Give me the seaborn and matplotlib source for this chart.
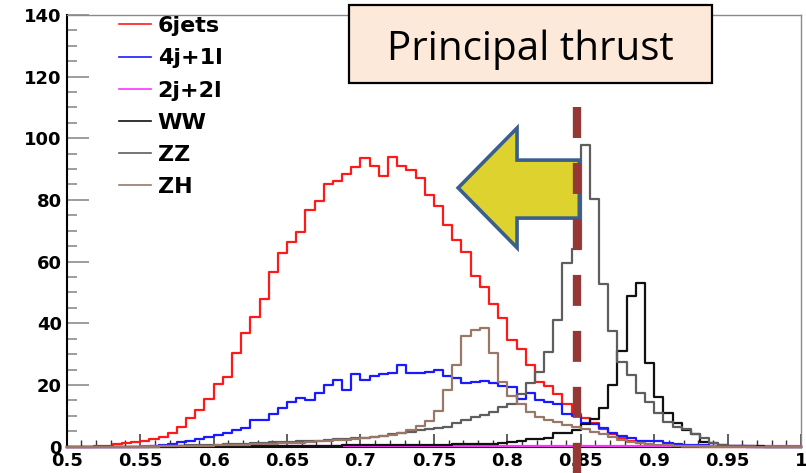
import numpy as np
import pandas as pd
import matplotlib
matplotlib.use("Agg")
import matplotlib.pyplot as plt
from matplotlib.lines import Line2D
from matplotlib.patches import Polygon, Rectangle
from matplotlib.ticker import FixedLocator, MultipleLocator
import seaborn as sns

# Histogram binning: 80 bins over [0.5, 1.0]
x_min, x_max, n_bins = 0.5, 1.0, 80

jets6 = [0, 0, 0, 0.2, 0.3, 0.8, 1.3, 1.5, 1.7, 2.4,
         3.2, 4.3, 6.5, 9.2, 11.9, 15.4, 20.2, 22.7, 30.5, 36.8,
         41.9, 48.0, 56.7, 62.7, 66.3, 69.5, 76.7, 79.6, 85.0, 86.2,
         88.4, 90.8, 93.6, 91.0, 87.7, 93.8, 91.0, 89.8, 87.2, 81.5,
         78.0, 72.0, 67.1, 63.2, 55.3, 51.9, 46.3, 41.8, 34.5, 31.8,
         26.4, 20.9, 19.7, 17.2, 14.0, 10.6, 9.2, 7.6, 5.6, 4.1,
         2.7, 1.9, 1.1, 0.5, 0.3, 0.2, 0.1, 0, 0, 0,
         0, 0, 0, 0, 0, 0, 0, 0, 0, 0]

jets4_lep1 = [0, 0, 0, 0, 0, 0, 0, 0, 0, 0.3,
              0.5, 0.8, 1.4, 1.8, 2.4, 3.0, 3.8, 4.5, 5.4, 6.2,
              8.7, 8.7, 10.5, 12.5, 14.5, 15.8, 15.1, 17.3, 20.0, 21.5,
              18.4, 23.7, 21.7, 22.8, 23.5, 24.0, 26.5, 23.9, 24.0, 24.2,
              24.9, 22.9, 22.4, 20.8, 21.1, 21.4, 20.6, 19.6, 19.3, 15.6,
              17.3, 15.1, 14.6, 14.0, 10.6, 9.9, 7.6, 7.3, 6.0, 4.3,
              3.5, 2.7, 1.9, 1.9, 1.9, 1.1, 1.0, 0.5, 0.5, 0.5,
              0.3, 0.2, 0.2, 0.1, 0, 0, 0, 0, 0, 0]

jets2_lep2 = [0, 0, 0, 0, 0, 0, 0, 0, 0.1, 0.1,
              0.1, 0.1, 0.1, 0.1, 0.1, 0.1, 0.1, 0.1, 0.1, 0.1,
              0.1, 0.1, 0.1, 0.1, 0.1, 0.1, 0.15, 0.15, 0.15, 0.15,
              0.15, 0.15, 0.15, 0.15, 0.15, 0.2, 0.2, 0.2, 0.2, 0.2,
              0.2, 0.2, 0.2, 0.2, 0.2, 0.2, 0.2, 0.2, 0.2, 0.2,
              0.2, 0.2, 0.2, 0.15, 0.15, 0.15, 0.15, 0.15, 0.1, 0.1,
              0.1, 0.1, 0.1, 0.1, 0.1, 0.1, 0.1, 0.1, 0.1, 0.1,
              0.1, 0.1, 0.1, 0.1, 0.1, 0.1, 0.1, 0.1, 0.1, 0.1]

ww = [0, 0, 0, 0, 0, 0, 0, 0, 0, 0,
      0.05, 0.05, 0.1, 0.1, 0.1, 0.1, 0.1, 0.1, 0.15, 0.15,
      0.2, 0.2, 0.2, 0.25, 0.25, 0.3, 0.3, 0.3, 0.35, 0.35,
      0.4, 0.4, 0.45, 0.45, 0.5, 0.5, 0.55, 0.6, 0.6, 0.65,
      0.7, 0.7, 0.75, 0.8, 0.85, 0.9, 1.0, 1.1, 1.4, 1.9,
      2.4, 2.4, 2.7, 4.3, 4.5, 5.4, 7.3, 9.0, 12.4, 20.0,
      30.9, 48.7, 53.0, 27.1, 16.1, 11.0, 7.8, 5.4, 4.1, 1.6,
      1.1, 0.5, 0.3, 0.2, 0.1, 0.1, 0, 0, 0, 0]

zz = [0, 0, 0, 0, 0, 0, 0, 0, 0, 0,
      0.1, 0.2, 0.3, 0.4, 0.5, 0.6, 0.7, 0.8, 0.9, 1.0,
      1.1, 1.2, 1.4, 1.5, 1.6, 1.8, 1.9, 2.0, 2.2, 2.4,
      2.5, 2.7, 2.9, 3.2, 3.6, 4.0, 4.5, 4.9, 5.3, 5.7,
      6.0, 6.5, 7.6, 8.7, 9.5, 10.3, 11.3, 12.9, 14.0, 17.0,
      20.5, 24.3, 30.8, 41.2, 59.4, 64.0, 97.9, 80.2, 52.8, 37.5,
      27.4, 23.2, 17.4, 14.6, 11.0, 8.1, 6.5, 5.6, 4.1, 2.7,
      1.3, 0.5, 0.3, 0.2, 0.1, 0, 0, 0, 0, 0]

zh = [0, 0, 0, 0, 0, 0, 0, 0, 0, 0,
      0.1, 0.1, 0.2, 0.2, 0.3, 0.3, 0.4, 0.5, 0.6, 0.7,
      0.8, 0.9, 1.0, 1.1, 1.2, 1.3, 1.5, 1.7, 1.9, 2.1,
      2.3, 2.5, 2.8, 3.1, 3.5, 3.9, 4.6, 5.4, 6.6, 8.3,
      11.6, 18.4, 26.5, 36.0, 37.8, 38.6, 30.3, 21.1, 16.4, 13.8,
      11.2, 9.5, 8.6, 7.9, 7.0, 6.5, 5.6, 4.9, 4.1, 3.0,
      2.2, 1.6, 1.1, 0.9, 0.6, 0.4, 0.3, 0.2, 0.1, 0,
      0, 0, 0, 0, 0, 0, 0, 0, 0, 0]

processes = ["6jets", "4j+1l", "2j+2l", "WW", "ZZ", "ZH"]
series = [jets6, jets4_lep1, jets2_lep2, ww, zz, zh]
colors = ["#ff1a1a", "#1a1aff", "#ff33ff", "#111111", "#5e5e5e", "#9a7868"]

x_ticks = [0.5, 0.55, 0.6, 0.65, 0.7, 0.75, 0.8, 0.85, 0.9, 0.95, 1.0]
x_tick_labels = ["0.5", "0.55", "0.6", "0.65", "0.7", "0.75", "0.8",
                 "0.85", "0.9", "0.95", "1"]
y_ticks = [0, 20, 40, 60, 80, 100, 120, 140]
y_tick_labels = ["0", "20", "40", "60", "80", "100", "120", "140"]

cut_value = 0.8475
title_text = "Principal thrust"

plt.rcParams["lines.scale_dashes"] = False

edges = np.linspace(x_min, x_max, n_bins + 1)
centers = 0.5 * (edges[:-1] + edges[1:])
frames = [pd.DataFrame({"thrust": centers, "events": vals, "process": name})
          for name, vals in zip(processes, series)]
df = pd.concat(frames, ignore_index=True)

fig = plt.figure(figsize=(8.06, 4.73), dpi=100)
ax = fig.add_axes([0.0828, 0.0556, 0.9111, 0.9131])

for name, col in zip(processes, colors):
    sub = df[df["process"] == name]
    sns.histplot(data=sub, x="thrust", weights="events", bins=n_bins,
                 binrange=(x_min, x_max), element="step", fill=False,
                 color=col, linewidth=1.6, ax=ax, zorder=3, clip_on=False)

ax.set_xlim(x_min, x_max)
ax.set_ylim(0, 140)
ax.set_xlabel("")
ax.set_ylabel("")

# Frame: solid left/bottom axes, light grey top/right
for side in ("left", "bottom"):
    ax.spines[side].set_color("black")
    ax.spines[side].set_linewidth(1.5)
    ax.spines[side].set_zorder(2)
for side in ("top", "right"):
    ax.spines[side].set_color("#8a8a8a")
    ax.spines[side].set_linewidth(1.0)

ax.xaxis.set_major_locator(FixedLocator(x_ticks))
ax.set_xticklabels(x_tick_labels)
ax.xaxis.set_minor_locator(MultipleLocator(0.01))
ax.yaxis.set_major_locator(FixedLocator(y_ticks))
ax.set_yticklabels(y_tick_labels)
ax.yaxis.set_minor_locator(MultipleLocator(5))

ax.tick_params(axis="x", which="major", direction="in", length=9.5,
               width=1.1, color="#333333", pad=4.0, top=False)
ax.tick_params(axis="x", which="minor", direction="in", length=5,
               width=1.0, color="#333333", top=False)
ax.tick_params(axis="y", which="major", direction="in", length=15.5,
               width=1.2, color="#8c8c8c", pad=3.5, right=False)
ax.tick_params(axis="y", which="minor", direction="in", length=7.5,
               width=1.2, color="#8c8c8c", right=False)
for lab in ax.get_xticklabels() + ax.get_yticklabels():
    lab.set_fontfamily("DejaVu Sans")
    lab.set_fontweight("bold")
    lab.set_fontsize(13)

# Legend
handles = [Line2D([0], [0], color=c, lw=1.2) for c in colors]
leg = ax.legend(handles, processes, loc="upper left",
                bbox_to_anchor=(0.1476, 0.966), bbox_transform=fig.transFigure,
                frameon=False, borderpad=0, borderaxespad=0,
                handlelength=1.44, handletextpad=0.3, labelspacing=0.55,
                prop={"family": "DejaVu Sans", "weight": "bold", "size": 16})

# Selection arrow pointing to the kept region (thrust below the cut)
head_x, tip_x = 0.8066, 0.7665
arrow = Polygon([(tip_x, 83.9), (head_x, 103.3), (head_x, 92.9),
                 (cut_value + 0.0015, 92.9), (cut_value + 0.0015, 74.1),
                 (head_x, 74.1), (head_x, 64.5)],
                closed=True, facecolor="#ddd22e", edgecolor="#3b5f8d",
                linewidth=2.6, joinstyle="miter", zorder=5, clip_on=False)
ax.add_patch(arrow)

# Cut position
cut_line = Line2D([cut_value, cut_value], [110, -9], color="#953735",
                  linewidth=6, dashes=(22.3, 18), dash_capstyle="butt",
                  zorder=6, clip_on=False)
ax.add_line(cut_line)

# Title box
fig.patches.append(Rectangle((0.433, 0.8245), 0.450, 0.1645,
                             transform=fig.transFigure, facecolor="#fde9d9",
                             edgecolor="black", linewidth=1.6, zorder=10))
fig.text(0.658, 0.873, title_text, ha="center", va="baseline",
         fontfamily="Open Sans", fontsize=29, color="black", zorder=11)

fig.savefig("out.png", dpi=100, facecolor="white")
